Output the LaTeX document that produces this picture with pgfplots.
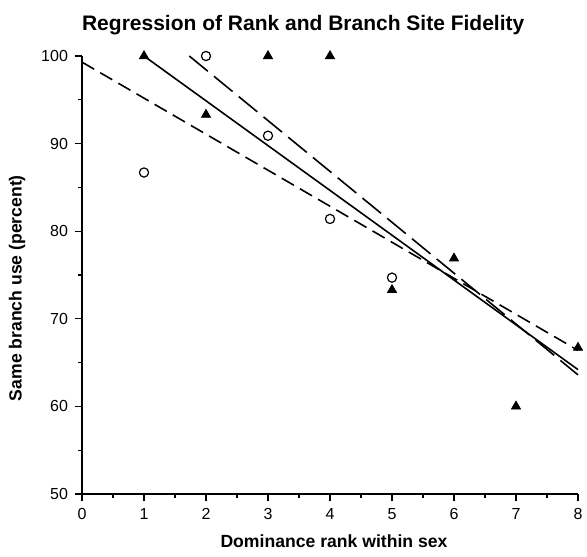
\documentclass[border=0pt]{standalone}
\usepackage{fontspec}
\setmainfont{Liberation Sans}
\usepackage{pgfplots}
\pgfplotsset{compat=1.18}
\begin{document}
\begin{tikzpicture}
\begin{axis}[
  name=ax,
  scale only axis,
  width=248pt, height=219pt,
  xmin=0, xmax=8, ymin=50, ymax=100,
  axis x line*=bottom, axis y line*=left,
  axis line style={line width=0.8pt},
  xtick={0,...,8}, ytick={50,60,...,100},
  minor x tick num=1, minor y tick num=1,
  tick align=outside,
  major tick length=3.5pt, minor tick length=2pt,
  tick style={line width=0.6pt, black},
  ticklabel style={font=\fontsize{8}{10}\selectfont},
  /pgf/number format/assume math mode=true,
  xlabel={Dominance rank within sex},
  ylabel={Same branch use (percent)},
  label style={font=\bfseries\fontsize{8.8}{10}\selectfont},
  xlabel style={at={(axis description cs:0.508,-0.123)}, anchor=base},
  ylabel style={at={(axis description cs:-0.131,0.47)}, anchor=center},
  clip=false,
]
% filled triangles
\addplot[only marks, mark=triangle*, mark size=2.6pt, black] coordinates {
  (1,100) (2,93.3) (3,100) (4,100) (5,73.3) (6,76.9) (7,60) (8,66.7)};
% open circles
\addplot[only marks, mark=o, mark size=2.3pt, line width=0.6pt, black] coordinates {
  (1,86.7) (2,100) (3,90.9) (4,81.4) (5,74.7)};
% regression lines
\addplot[black, line width=0.8pt] coordinates {(1,100) (8,64.2)};
\addplot[black, line width=0.8pt, dash pattern=on 12pt off 4pt] coordinates {(1.73,100) (8,63.6)};
\addplot[black, line width=0.8pt, dash pattern=on 7pt off 3.5pt] coordinates {(0,99.3) (8,66.4)};
\node[font=\bfseries\fontsize{10.5}{12}\selectfont, anchor=base] at (rel axis cs:0.446,1) [yshift=13pt] {Regression of Rank and Branch Site Fidelity};
\end{axis}
\pgfresetboundingbox
\path[use as bounding box] ([shift={(-41pt,-31pt)}]ax.south west) rectangle ([shift={(252.5pt,247pt)}]ax.south west);
\end{tikzpicture}
\end{document}
